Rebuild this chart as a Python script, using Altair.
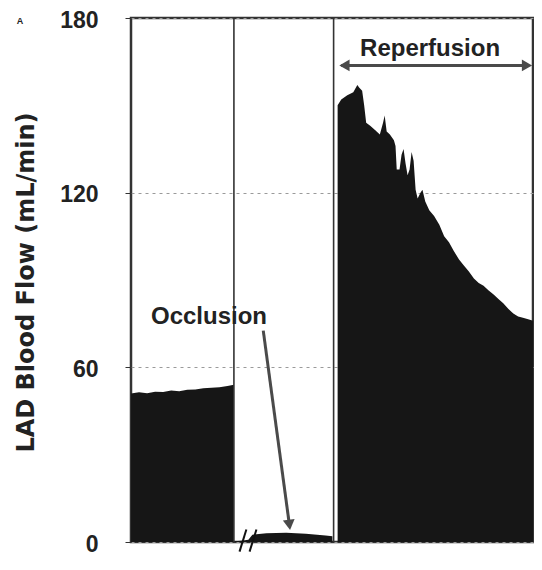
import altair as alt
import pandas as pd

# ---- data (time in arbitrary units 0-100, LAD blood flow in mL/min) ----
base_t = [0, 2, 4, 6, 8, 10, 12, 14, 16, 18, 20, 22, 24, 25.6]
base_v = [51.0, 51.4, 51.1, 51.6, 51.5, 52.0, 51.8, 52.3, 52.4, 52.8, 53.0, 53.2, 53.6, 54.0]

occl_t = [25.6, 27.5, 29.2, 30.2, 33.7, 38.6, 43.5, 48.4, 50.1]
occl_v = [0.3, 0.4, 0.8, 2.5, 3.0, 3.2, 2.8, 2.2, 2.0]

reper_t = [51.4, 52.3, 53.8, 55.3, 56.3, 56.8, 57.5, 58.0, 58.5, 59.5, 60.7, 61.9,
           62.7, 63.1, 63.6, 64.4, 65.4, 65.8, 66.1, 66.8, 67.3, 67.8, 68.3, 68.8,
           69.3, 69.8, 70.3, 70.8, 71.3, 72.0, 72.5, 73.2, 74.2, 75.4, 76.7, 77.9,
           79.1, 80.3, 81.6, 82.8, 84.0, 85.3, 86.5, 87.7, 88.9, 90.2, 91.4, 92.6,
           93.9, 95.1, 96.3, 97.5, 98.8, 100.0]
reper_v = [150.0, 152.0, 153.5, 154.5, 157.0, 156.0, 155.0, 150.0, 144.0, 143.0, 141.5, 140.0,
           144.0, 146.5, 141.0, 140.0, 138.0, 136.0, 128.0, 128.0, 133.0, 135.0, 130.0, 126.0,
           128.0, 134.0, 131.0, 121.0, 118.0, 120.0, 121.0, 117.0, 114.0, 112.0, 109.0, 105.0,
           103.0, 100.0, 97.0, 95.0, 93.0, 90.5, 89.0, 88.0, 86.5, 85.0, 83.5, 82.0,
           80.0, 78.5, 77.5, 77.0, 76.5, 76.0]

phase_bounds = [25.6, 50.4]
y_ticks = [0, 60, 120, 180]

labels_text = ["Occlusion", "Reperfusion"]
labels_t = [19.4, 74.4]
labels_v = [77.2, 169.3]

# ---- tables ----
flow = pd.concat([
    pd.DataFrame({"t": base_t, "v": base_v, "seg": "baseline"}),
    pd.DataFrame({"t": occl_t, "v": occl_v, "seg": "occlusion"}),
    pd.DataFrame({"t": reper_t, "v": reper_v, "seg": "reperfusion"}),
])

W, H = 402, 524
xs = alt.Scale(domain=[0, 100], nice=False, zero=False)
ys = alt.Scale(domain=[0, 180], nice=False)

area = alt.Chart(flow).mark_area(color="#161616", interpolate="linear").encode(
    x=alt.X("t:Q", scale=xs, axis=None),
    y=alt.Y("v:Q", scale=ys, stack=None,
            axis=alt.Axis(values=y_ticks, grid=True, gridColor="#9a9a9a", gridDash=[3, 4],
                          gridWidth=1, domain=False, tickSize=6, tickColor="#333",
                          labelFont="Liberation Sans", labelFontWeight="bold", labelFontSize=23,
                          labelColor="#222", labelPadding=27, labelOffset=2,
                          title="LAD Blood Flow (mL/min)", titleFont="DejaVu Sans",
                          titleFontWeight="bold", titleFontSize=24, titleColor="#222",
                          titleAngle=270, titleAlign="center", titleBaseline="middle",
                          titleX=-105, titleY=264)),
    detail="seg:N",
)

dividers = alt.Chart(pd.DataFrame({"t": phase_bounds})).mark_rule(
    color="#333", strokeWidth=1.6).encode(x=alt.X("t:Q", scale=xs))

texts = alt.Chart(pd.DataFrame({"t": labels_t, "v": labels_v, "txt": labels_text})).mark_text(
    font="Liberation Sans", fontWeight="bold", fontSize=24, color="#222",
    align="center", baseline="middle").encode(
    x=alt.X("t:Q", scale=xs), y=alt.Y("v:Q", scale=ys), text="txt:N")

panel_letter = alt.Chart(pd.DataFrame({"t": [-27.6], "v": [179.0], "txt": ["A"]})).mark_text(
    font="Liberation Sans", fontWeight="bold", fontSize=9, color="#222").encode(
    x=alt.X("t:Q", scale=xs), y=alt.Y("v:Q", scale=ys), text="txt:N")

# arrows
arrow_lines = pd.DataFrame({
    "t": [52.3, 32.9], "t2": [99.0, 39.4],
    "v": [163.7, 72.6], "v2": [163.7, 5.9],
})
arrow_rules = alt.Chart(arrow_lines).mark_rule(color="#4a4a4a", strokeWidth=3).encode(
    x=alt.X("t:Q", scale=xs), x2="t2:Q", y=alt.Y("v:Q", scale=ys), y2="v2:Q")

heads = pd.DataFrame({
    "t": [53.1, 98.5, 39.4],
    "v": [163.7, 163.7, 5.9],
    "shape": ["triangle-left", "triangle-right", "triangle-down"],
    "ang": [0, 0, 352.6],
})
arrow_heads = alt.Chart(heads).mark_point(filled=True, color="#4a4a4a", opacity=1, size=140).encode(
    x=alt.X("t:Q", scale=xs), y=alt.Y("v:Q", scale=ys),
    shape=alt.Shape("shape:N", scale=None, legend=None),
    angle=alt.Angle("ang:Q", scale=None))

breaks = pd.DataFrame({"t": [27.0, 29.5], "t2": [28.7, 31.2], "v": [-3.3, -3.3], "v2": [4.3, 4.3]})
break_marks = alt.Chart(breaks).mark_rule(color="#111", strokeWidth=2).encode(
    x=alt.X("t:Q", scale=xs), x2="t2:Q", y=alt.Y("v:Q", scale=ys), y2="v2:Q")

chart = alt.layer(area, dividers, arrow_rules, arrow_heads, break_marks, texts, panel_letter).properties(
    width=W, height=H,
    background="white",
    autosize=alt.AutoSizeParams(type="none"),
    padding={"left": 123, "top": 10, "right": 1, "bottom": 16},
).configure_view(stroke="#333", strokeWidth=2.5)

chart.save("out.html", embed_options={"renderer": "svg", "actions": False})
